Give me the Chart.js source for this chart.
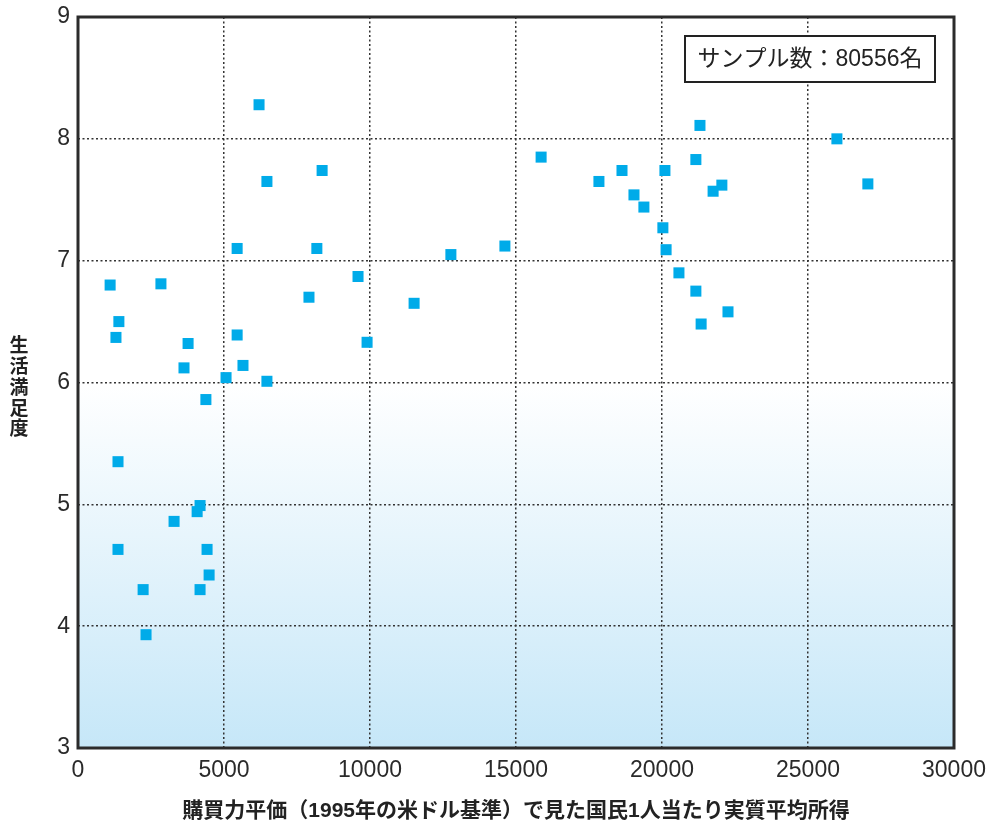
<!DOCTYPE html>
<html lang="ja">
<head>
    <meta charset="UTF-8">
    <title>生活満足度と国民1人当たり実質平均所得</title>
    <script src="https://cdn.jsdelivr.net/npm/chart.js"></script>
    <style>
        html, body { margin: 0; padding: 0; background: #fff; }
        #wrap { width: 990px; height: 827px; }
    </style>
</head>
<body>
<div id="wrap"><canvas id="scatterChart" width="990" height="827"></canvas></div>

<script>
    // income (PPP, 1995 USD) and life satisfaction
    const incomes = [
        1100, 2840, 1400, 1300, 3770, 3630, 5450, 5650, 5070, 6470,
        4380, 1370, 4180, 4080, 3290, 1370, 4420, 4490, 2230, 4180,
        2330, 6200, 6470, 8360, 5450, 8180, 7910, 9590, 9900, 11510,
        12770, 14620, 15860, 17840, 18630, 20100, 19040, 19380, 20030, 20140,
        20580, 21160, 21340, 22260, 21300, 21160, 21750, 22050, 25990, 27050
    ];
    const satisfaction = [
        6.80, 6.81, 6.50, 6.37, 6.32, 6.12, 6.39, 6.14, 6.04, 6.01,
        5.86, 5.35, 4.99, 4.94, 4.86, 4.63, 4.63, 4.42, 4.30, 4.30,
        3.93, 8.28, 7.65, 7.74, 7.10, 7.10, 6.70, 6.87, 6.33, 6.65,
        7.05, 7.12, 7.85, 7.65, 7.74, 7.74, 7.54, 7.44, 7.27, 7.09,
        6.90, 6.75, 6.48, 6.58, 8.11, 7.83, 7.57, 7.62, 8.00, 7.63
    ];
    const xTicks = [0, 5000, 10000, 15000, 20000, 25000, 30000];
    const yTicks = [3, 4, 5, 6, 7, 8, 9];
    const xTitle = '購買力平価（1995年の米ドル基準）で見た国民1人当たり実質平均所得';
    const yTitle = '生活満足度';
    const sampleNote = 'サンプル数：80556名';
    const shadeFrom = 6; // blue shading starts below this value

    const points = incomes.map((x, i) => ({ x: x, y: satisfaction[i] }));

    // light blue gradient under y = 6, frame, vertical title and the sample box
    const decorations = {
        id: 'decorations',
        beforeDatasetsDraw(chart) {
            const { ctx, chartArea: a, scales } = chart;
            const y6 = scales.y.getPixelForValue(shadeFrom);
            const g = ctx.createLinearGradient(0, y6, 0, a.bottom);
            g.addColorStop(0, 'rgba(255,255,255,1)');
            g.addColorStop(1, '#c6e7f8');
            ctx.save();
            ctx.globalCompositeOperation = 'destination-over';
            ctx.fillStyle = g;
            ctx.fillRect(a.left, y6, a.right - a.left, a.bottom - y6);
            ctx.restore();
        },
        afterDraw(chart) {
            const { ctx, chartArea: a } = chart;
            ctx.save();
            ctx.strokeStyle = '#2b2b2b';
            ctx.lineWidth = 3;
            ctx.strokeRect(a.left, a.top, a.right - a.left, a.bottom - a.top);

            ctx.fillStyle = '#222';
            ctx.font = 'bold 19px "Noto Sans CJK JP"';
            ctx.textAlign = 'center';
            ctx.textBaseline = 'middle';
            Array.from(yTitle).forEach((c, i) => ctx.fillText(c, 19, 345 + i * 20.8));

            // sample size box
            ctx.fillStyle = '#fff';
            ctx.fillRect(685, 36, 250, 46);
            ctx.strokeStyle = '#222';
            ctx.lineWidth = 2;
            ctx.strokeRect(685, 36, 250, 46);
            ctx.fillStyle = '#222';
            ctx.font = '23px "Liberation Sans", "Noto Sans CJK JP"';
            ctx.fillText(sampleNote, 810, 60);
            ctx.restore();
        }
    };

    new Chart(document.getElementById('scatterChart'), {
        type: 'scatter',
        data: {
            datasets: [{
                data: points,
                pointStyle: 'rect',
                pointRadius: 7.8,
                pointHoverRadius: 7.8,
                backgroundColor: '#00abe9',
                borderWidth: 0
            }]
        },
        options: {
            responsive: false,
            animation: false,
            layout: { padding: { top: 17, right: 36, left: 0, bottom: 0 } },
            plugins: {
                legend: { display: false },
                tooltip: { enabled: false }
            },
            scales: {
                x: {
                    type: 'linear',
                    min: 0,
                    max: 30000,
                    afterBuildTicks: s => { s.ticks = xTicks.map(v => ({ value: v })); },
                    afterFit: s => { s.height = 79; s.paddingLeft = 0; s.paddingRight = 0; },
                    grid: { color: '#333', lineWidth: 1.5, drawTicks: false },
                    border: { display: false, dash: [2, 2.5] },
                    ticks: {
                        padding: 9,
                        color: '#2a2a2a',
                        font: { family: 'Liberation Sans', size: 23 },
                        maxRotation: 0,
                        callback: v => String(v)
                    },
                    title: {
                        display: true,
                        text: xTitle,
                        color: '#222',
                        font: { family: '"Liberation Sans", "Noto Sans CJK JP"', size: 21, weight: 'bold' },
                        padding: { top: 0, bottom: 3 }
                    }
                },
                y: {
                    type: 'linear',
                    min: 3,
                    max: 9,
                    afterBuildTicks: s => { s.ticks = yTicks.map(v => ({ value: v })); },
                    afterFit: s => { s.width = 78; s.paddingTop = 0; s.paddingBottom = 0; },
                    grid: { color: '#333', lineWidth: 1.5, drawTicks: false },
                    border: { display: false, dash: [2, 2.5] },
                    ticks: {
                        padding: 8,
                        color: '#2a2a2a',
                        font: { family: 'Liberation Sans', size: 23 },
                        callback: v => String(v)
                    }
                }
            }
        },
        plugins: [decorations]
    });
</script>
</body>
</html>
